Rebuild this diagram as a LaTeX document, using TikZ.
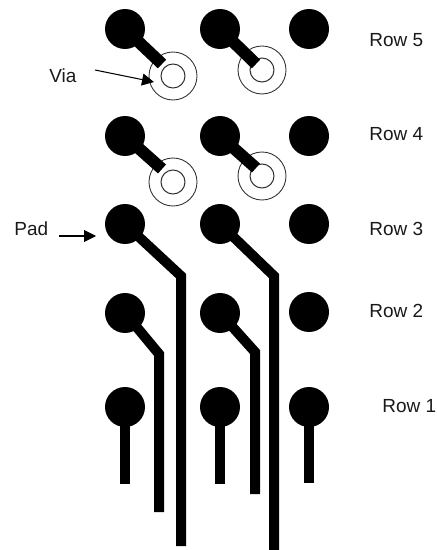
\documentclass[tikz,border=0pt]{standalone}
\usepackage{fontspec}
\setmainfont{Liberation Sans}
\usetikzlibrary{arrows.meta}
\begin{document}
\begin{tikzpicture}[x=0.02cm,y=-0.02cm]

    \tikzset{
      pad/.style={
        circle,
        fill=black,
        inner sep=0pt,
        minimum size=0.8cm,
      },
      viaouter/.style={
        circle,
        draw=black!80,
        line width=0.5pt,
        inner sep=0pt,
        minimum size=0.96cm,
      },
      viainner/.style={
        circle,
        draw=black!80,
        line width=0.6pt,
        inner sep=0pt,
        minimum size=0.48cm,
      },
      trace/.style={
        line width=0.2cm,
        black,
      },
      stub/.style={
        line width=0.24cm,
        black,
      },
      callout/.style={
        line width=0.6pt,
        -{Triangle[length=0.24cm,width=0.24cm]},
      },
      rowlabel/.style={
        font=\fontsize{10.8}{12}\selectfont,
        text=black!90,
        inner sep=0pt,
      },
    }
    \useasboundingbox (0,0) rectangle (436,550);
    \clip (0,0) rectangle (436,550);

    % pads
    \foreach \name/\px/\py in {p51/125/29,p52/220/29,p53/309/29,
                               p41/125/136,p42/220/136,p43/309/136,
                               p31/125/224,p32/220/224,p33/309/224,
                               p21/125/313,p22/220/313,p23/309/312,
                               p11/125/407,p12/220/407,p13/309/407}
      \node[pad] (\name) at (\px,\py) {};

    % vias
    \node[viaouter] (v51) at (173,76) {};
    \node[viainner] (w51) at (173,76) {};
    \node[viaouter] (v52) at (262,70) {};
    \node[viainner] (w52) at (262,70) {};
    \node[viaouter] (v41) at (173,182) {};
    \node[viainner] (w41) at (173,182) {};
    \node[viaouter] (v42) at (262,176) {};
    \node[viainner] (w42) at (262,176) {};

    % short traces into the vias
    \coordinate (e51) at (162,64);
    \coordinate (e52) at (256,64);
    \coordinate (e41) at (162,169);
    \coordinate (e42) at (256,168);
    \draw[stub] (p51.center)--(e51);
    \draw[stub] (p52.center)--(e52);
    \draw[stub] (p41.center)--(e41);
    \draw[stub] (p42.center)--(e42);

    % row 3 traces
    \coordinate (e31) at (181,546);
    \coordinate (e32) at (274,552);
    \draw[trace] (p31.center)--(181,276)--(e31);
    \draw[trace] (p32.center)--(274,276)--(e32);

    % row 2 traces
    \coordinate (e21) at (159,512);
    \coordinate (e22) at (255,494);
    \draw[trace] (p21.center)--(159,354)--(e21);
    \draw[trace] (p22.center)--(255,352)--(e22);

    % row 1 traces
    \coordinate (e11) at (125,484);
    \coordinate (e12) at (220,484);
    \coordinate (e13) at (309,483);
    \draw[trace] (p11.center)--(e11);
    \draw[trace] (p12.center)--(e12);
    \draw[trace] (p13.center)--(e13);

    % labels
    \node[rowlabel,anchor=west] (r5) at (369,40) {Row 5};
    \node[rowlabel,anchor=west] (r4) at (369,134) {Row 4};
    \node[rowlabel,anchor=west] (r3) at (369,229) {Row 3};
    \node[rowlabel,anchor=west] (r2) at (369,311) {Row 2};
    \node[rowlabel,anchor=west] (r1) at (382,406) {Row 1};
    \node[rowlabel,anchor=west] (lvia) at (49,76) {Via};
    \node[rowlabel,anchor=west] (lpad) at (14,229) {Pad};

    % arrows
    \coordinate (a1) at (95,70);
    \coordinate (a2) at (154,82);
    \coordinate (b1) at (59,236);
    \coordinate (b2) at (96,236);
    \draw[callout] (a1)--(a2);
    \draw[callout] (b1)--(b2);

\end{tikzpicture}
\end{document}
